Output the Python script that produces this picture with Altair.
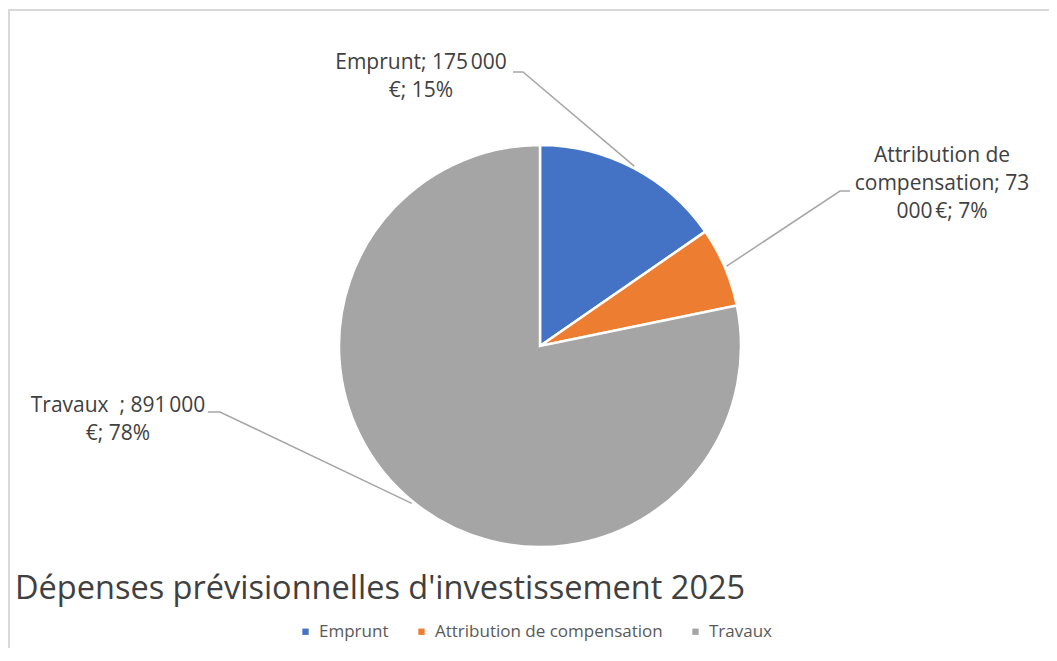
import math
import altair as alt
import pandas as pd

# ---- data ----
categories = ["Emprunt", "Attribution de compensation", "Travaux"]
values = [175000, 73000, 891000]
percents = [15, 7, 78]
colors = ["#4472C4", "#ED7D31", "#A5A5A5"]
label_texts = [
    "Emprunt; 175\u202f000\n€; 15%",
    "Attribution de\ncompensation; 73\n000\u202f€; 7%",
    "Travaux\u00a0\u00a0; 891\u202f000\n€; 78%",
]
title_text = "Dépenses prévisionnelles d'investissement 2025"

# ---- layout ----
W, H = 1041, 640
CX, CY, R = 532, 338, 201
LEADER_R = 203
FONT = "Open Sans"
# label text anchor (center x, first baseline y) and leader start / bend points
label_pos = [(413, 61), (934, 154), (110, 404)]
leader_start = [(505, 64), (842, 183), (200, 404)]
leader_bend = [(515, 64), (832, 183), (212, 404)]

total = sum(values)
slices = pd.DataFrame({
    "cat": categories,
    "value": values,
    "idx": list(range(len(categories))),
})

# leader lines: start -> bend -> slice edge at mid-angle
rows = []
cum = 0
for i, (c, v) in enumerate(zip(categories, values)):
    mid = (cum + v / 2) / total * 2 * math.pi
    cum += v
    ex = CX + LEADER_R * math.sin(mid)
    ey = CY - LEADER_R * math.cos(mid)
    pts = [leader_start[i], leader_bend[i], (ex, ey)]
    for k, (px, py) in enumerate(pts):
        rows.append({"cat": c, "k": k, "px": px, "py": py})
leaders = pd.DataFrame(rows)

labels = pd.DataFrame({
    "cat": categories,
    "text": label_texts,
    "px": [p[0] for p in label_pos],
    "py": [p[1] for p in label_pos],
})

xs = alt.Scale(domain=[0, W], range=[0, W], nice=False, zero=False)
ys = alt.Scale(domain=[0, H], range=[0, H], nice=False, zero=False)

color_scale = alt.Scale(domain=categories, range=colors)

pie = alt.Chart(slices).mark_arc(
    outerRadius=R, stroke="white", strokeWidth=2.5
).encode(
    theta=alt.Theta("value:Q", stack=True),
    order=alt.Order("idx:Q"),
    color=alt.Color(
        "cat:N",
        scale=color_scale,
        sort=categories,
        legend=alt.Legend(
            orient="none",
            legendX=289,
            legendY=615,
            direction="horizontal",
            title=None,
            symbolType="square",
            symbolSize=40,
            symbolStrokeWidth=0,
            labelFont=FONT,
            labelFontSize=17,
            labelColor="#595959",
            labelLimit=400,
            columnPadding=24,
            labelOffset=5,
        ),
    ),
    x=alt.value(CX),
    y=alt.value(CY),
)

lines = alt.Chart(leaders).mark_line(color="#A6A6A6", strokeWidth=1.5).encode(
    x=alt.X("px:Q", scale=xs, axis=None),
    y=alt.Y("py:Q", scale=ys, axis=None),
    detail="cat:N",
    order="k:Q",
)

text = alt.Chart(labels).mark_text(
    font=FONT, fontSize=21, color="#404040", align="center",
    baseline="alphabetic", lineBreak="\n", lineHeight=28,
).encode(
    x=alt.X("px:Q", scale=xs, axis=None),
    y=alt.Y("py:Q", scale=ys, axis=None),
    text="text:N",
)

frame_top = alt.Chart(pd.DataFrame({"a": [0]})).mark_rule(
    color="#D9D9D9", strokeWidth=2
).encode(x=alt.value(0), x2=alt.value(W), y=alt.value(2))
frame_left = alt.Chart(pd.DataFrame({"a": [0]})).mark_rule(
    color="#D9D9D9", strokeWidth=2
).encode(x=alt.value(1), y=alt.value(2), y2=alt.value(H))

chart = alt.layer(frame_top, frame_left, pie, lines, text).properties(
    width=W,
    height=H,
    padding=0,
    autosize=alt.AutoSizeParams(type="none"),
    title=alt.TitleParams(
        text=title_text,
        orient="top",
        anchor="start",
        frame="group",
        font=FONT,
        fontSize=32.5,
        fontWeight="normal",
        color="#404040",
        baseline="alphabetic",
        offset=0,
        dx=7,
        dy=623,
    ),
).configure_view(stroke=None)

chart.save("out.html", embed_options={"renderer": "svg", "actions": False})
